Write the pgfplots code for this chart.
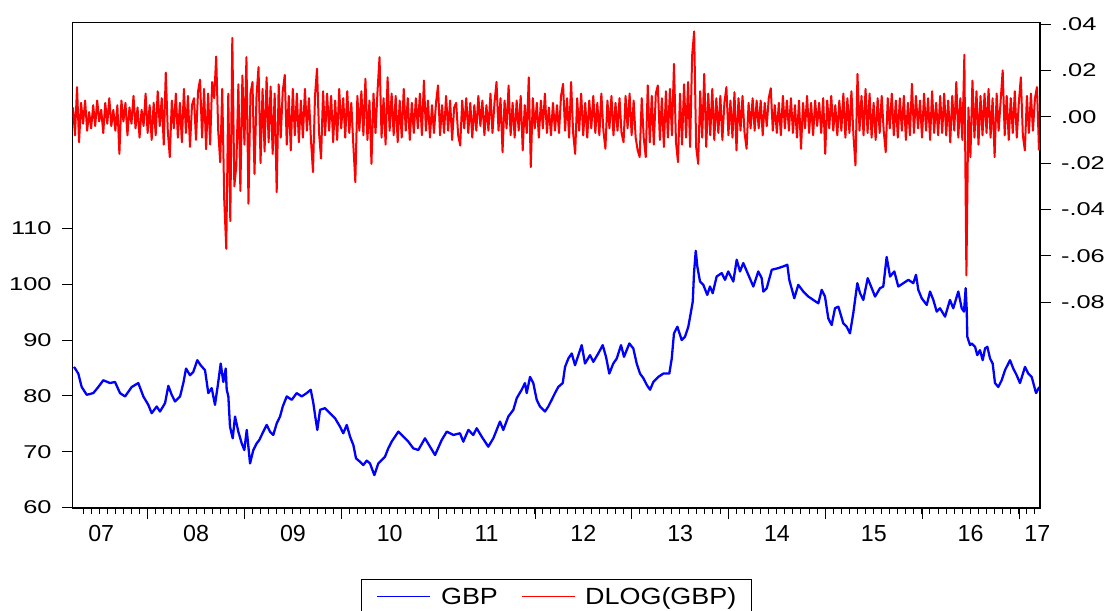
\documentclass[border=0pt]{standalone}
\usepackage{pgfplots}
\pgfplotsset{compat=1.18}
\usepackage{pgfplotstable}
\usepackage{fontspec}
\setmainfont{Liberation Sans}
\newfontfamily\ylabfont{Liberation Sans}[FakeStretch=1.37]
\newfontfamily\legfont{Liberation Sans}[FakeStretch=1.15]

\pgfplotstableread{
t v
2007.239 85.2
2007.283 84.0
2007.318 81.6
2007.370 80.2
2007.438 80.5
2007.490 81.6
2007.541 82.8
2007.611 82.3
2007.662 82.5
2007.714 80.5
2007.766 79.9
2007.835 81.6
2007.903 82.3
2007.955 79.9
2008.006 78.4
2008.041 76.9
2008.093 78.1
2008.127 77.2
2008.179 78.7
2008.213 81.8
2008.248 80.2
2008.282 79.0
2008.334 79.9
2008.368 82.3
2008.396 84.9
2008.437 83.7
2008.471 84.3
2008.512 86.4
2008.547 85.5
2008.592 84.6
2008.626 80.5
2008.661 81.4
2008.695 78.4
2008.729 82.5
2008.754 85.8
2008.781 82.5
2008.806 84.9
2008.816 81.1
2008.833 79.9
2008.850 74.5
2008.878 72.4
2008.902 76.3
2008.936 73.6
2008.971 71.5
2008.998 70.3
2009.023 73.9
2009.057 67.9
2009.091 70.3
2009.126 71.5
2009.153 72.1
2009.194 73.6
2009.229 74.8
2009.263 73.6
2009.297 73.0
2009.333 75.1
2009.367 76.3
2009.395 78.1
2009.436 79.9
2009.488 79.3
2009.539 80.5
2009.591 79.9
2009.642 80.5
2009.684 81.1
2009.711 78.7
2009.728 76.6
2009.752 73.9
2009.780 77.5
2009.831 77.8
2009.883 76.9
2009.935 76.0
2009.986 74.5
2010.020 73.3
2010.056 74.8
2010.090 72.7
2010.124 71.2
2010.152 68.8
2010.193 68.2
2010.227 67.6
2010.262 68.4
2010.296 67.9
2010.341 65.8
2010.382 67.9
2010.417 68.5
2010.451 69.1
2010.485 70.6
2010.520 71.8
2010.589 73.6
2010.640 72.7
2010.692 71.8
2010.744 70.6
2010.795 70.3
2010.864 72.4
2010.916 70.9
2010.968 69.4
2011.037 72.1
2011.089 73.6
2011.157 73.0
2011.226 73.3
2011.260 71.8
2011.312 73.9
2011.363 73.0
2011.398 74.2
2011.450 72.7
2011.518 70.9
2011.570 72.4
2011.639 75.4
2011.673 73.9
2011.725 76.3
2011.777 77.5
2011.812 79.6
2011.863 81.1
2011.897 82.3
2011.915 80.5
2011.949 83.4
2011.983 82.3
2012.018 79.3
2012.052 78.1
2012.104 77.2
2012.138 78.1
2012.173 79.3
2012.207 80.5
2012.241 81.6
2012.287 82.3
2012.311 85.2
2012.345 86.7
2012.380 87.6
2012.414 85.5
2012.483 89.1
2012.517 85.8
2012.569 87.3
2012.603 86.1
2012.654 87.6
2012.700 89.1
2012.734 87.0
2012.768 84.0
2012.809 85.8
2012.845 86.7
2012.889 89.1
2012.920 87.0
2012.975 89.4
2013.016 88.5
2013.051 85.8
2013.085 84.0
2013.119 83.2
2013.154 82.0
2013.189 81.1
2013.223 82.5
2013.274 83.4
2013.326 84.0
2013.388 84.0
2013.413 86.7
2013.436 91.2
2013.471 92.4
2013.516 90.0
2013.550 90.6
2013.584 92.4
2013.609 94.8
2013.630 96.9
2013.643 102.0
2013.661 106.0
2013.677 103.2
2013.705 100.5
2013.739 99.9
2013.780 98.1
2013.808 99.6
2013.836 98.4
2013.877 101.4
2013.929 102.0
2013.963 100.8
2013.997 102.3
2014.049 100.5
2014.084 104.4
2014.118 102.3
2014.152 103.8
2014.204 101.7
2014.256 99.6
2014.307 102.3
2014.342 101.1
2014.359 98.7
2014.394 99.3
2014.446 102.6
2014.514 102.9
2014.565 103.2
2014.607 103.5
2014.627 100.8
2014.679 97.5
2014.720 99.9
2014.772 98.7
2014.824 97.8
2014.875 97.2
2014.927 96.6
2014.962 99.0
2014.996 97.8
2015.030 93.9
2015.065 92.7
2015.099 95.7
2015.134 96.0
2015.185 93.0
2015.220 92.4
2015.254 91.2
2015.288 94.8
2015.330 100.2
2015.358 98.4
2015.392 97.2
2015.437 101.1
2015.479 99.3
2015.513 97.8
2015.564 99.3
2015.598 99.6
2015.633 104.9
2015.668 101.4
2015.712 102.3
2015.753 99.6
2015.805 100.2
2015.857 100.8
2015.908 100.2
2015.936 101.7
2015.960 99.0
2015.995 97.5
2016.047 96.3
2016.081 98.7
2016.115 97.2
2016.150 95.1
2016.184 95.7
2016.236 94.2
2016.287 97.2
2016.321 95.7
2016.373 98.7
2016.408 95.7
2016.432 95.1
2016.449 99.3
2016.460 95.4
2016.466 90.6
2016.494 89.1
2016.511 89.4
2016.546 88.8
2016.569 87.3
2016.597 88.2
2016.625 86.4
2016.649 88.5
2016.673 88.8
2016.701 86.7
2016.728 85.8
2016.752 82.3
2016.786 81.6
2016.821 82.8
2016.855 84.6
2016.907 86.4
2016.941 84.9
2016.976 83.7
2017.010 82.3
2017.062 85.2
2017.096 84.0
2017.131 83.4
2017.176 80.5
2017.210 81.6
}\gbp

\pgfplotstableread[row sep=\\]{d\\
0.004\\ -0.008\\ 0.0128\\ -0.011\\ 0.006\\ -0.003\\ 0.007\\ -0.006\\ 0.002\\ -0.005\\
0.005\\ -0.004\\ 0.007\\ -0.002\\ 0.003\\ -0.007\\ 0.006\\ -0.003\\ 0.008\\ -0.004\\
0.003\\ -0.006\\ 0.005\\ -0.016\\ 0.007\\ -0.002\\ 0.006\\ -0.008\\ 0.004\\ -0.003\\
0.009\\ -0.005\\ 0.004\\ -0.009\\ 0.003\\ -0.004\\ 0.010\\ -0.007\\ 0.005\\ -0.010\\
0.006\\ -0.008\\ 0.011\\ -0.004\\ 0.008\\ -0.012\\ 0.019\\ -0.006\\ -0.0174\\ 0.007\\
-0.005\\ 0.010\\ -0.009\\ 0.006\\ -0.011\\ 0.012\\ -0.007\\ 0.009\\ -0.013\\ 0.005\\
0.008\\ -0.010\\ 0.011\\ 0.016\\ -0.009\\ 0.012\\ -0.014\\ 0.010\\ -0.012\\ 0.015\\
0.008\\ 0.026\\ -0.006\\ -0.0196\\ 0.012\\ -0.036\\ -0.057\\ 0.010\\ -0.045\\ 0.034\\
-0.030\\ -0.021\\ 0.014\\ -0.032\\ 0.0178\\ -0.012\\ 0.0257\\ -0.0375\\ 0.010\\ 0.015\\
-0.0246\\ 0.009\\ 0.0214\\ -0.020\\ 0.012\\ -0.015\\ 0.017\\ -0.011\\ 0.013\\ -0.016\\
0.010\\ -0.0325\\ 0.014\\ -0.009\\ 0.011\\ 0.018\\ -0.012\\ 0.009\\ -0.0145\\ 0.012\\
-0.008\\ 0.010\\ -0.011\\ 0.007\\ -0.009\\ 0.012\\ -0.006\\ 0.008\\ -0.010\\ -0.0239\\
0.009\\ 0.0207\\ -0.007\\ -0.018\\ 0.011\\ -0.008\\ 0.010\\ -0.006\\ 0.009\\ -0.011\\
0.007\\ -0.010\\ 0.012\\ -0.005\\ 0.008\\ -0.009\\ 0.011\\ -0.007\\ 0.006\\ -0.012\\
-0.0282\\ 0.009\\ -0.006\\ 0.011\\ -0.008\\ 0.0164\\ -0.010\\ 0.007\\ -0.0203\\ 0.010\\
-0.007\\ 0.011\\ 0.0257\\ -0.009\\ 0.008\\ -0.012\\ 0.017\\ -0.006\\ 0.010\\ -0.008\\
0.009\\ -0.011\\ 0.007\\ -0.009\\ 0.012\\ -0.006\\ 0.008\\ -0.010\\ 0.006\\ -0.007\\
0.008\\ -0.005\\ 0.010\\ -0.008\\ 0.0156\\ -0.006\\ 0.007\\ -0.009\\ 0.005\\ -0.007\\
0.006\\ 0.0135\\ -0.008\\ 0.005\\ -0.007\\ 0.009\\ -0.006\\ 0.007\\ -0.010\\ 0.004\\
0.006\\ -0.008\\ -0.0124\\ 0.007\\ -0.005\\ 0.008\\ -0.007\\ 0.006\\ -0.009\\ 0.005\\
-0.006\\ 0.009\\ -0.004\\ 0.007\\ -0.008\\ 0.005\\ -0.006\\ 0.010\\ -0.007\\ 0.006\\
0.015\\ -0.006\\ 0.008\\ -0.0153\\ 0.007\\ -0.005\\ 0.0135\\ -0.008\\ 0.006\\ -0.009\\
0.007\\ -0.006\\ 0.009\\ -0.0145\\ 0.005\\ -0.007\\ 0.017\\ -0.0217\\ 0.008\\ -0.005\\
0.006\\ -0.009\\ 0.007\\ -0.005\\ 0.010\\ -0.007\\ 0.004\\ -0.008\\ 0.006\\ -0.006\\
0.005\\ -0.007\\ 0.009\\ 0.0142\\ -0.006\\ 0.008\\ -0.009\\ 0.015\\ -0.007\\ -0.016\\
0.008\\ -0.006\\ 0.010\\ -0.008\\ 0.006\\ -0.009\\ 0.007\\ -0.005\\ 0.009\\ -0.007\\
0.006\\ -0.008\\ 0.010\\ -0.006\\ -0.0138\\ 0.007\\ -0.005\\ 0.009\\ -0.008\\ 0.006\\
-0.006\\ 0.008\\ -0.007\\ -0.011\\ 0.009\\ -0.005\\ 0.010\\ -0.008\\ 0.007\\ -0.009\\
-0.0145\\ -0.0174\\ 0.008\\ -0.009\\ -0.0174\\ 0.0135\\ -0.011\\ 0.009\\ -0.012\\ 0.010\\
0.0135\\ -0.010\\ 0.008\\ -0.013\\ 0.011\\ -0.009\\ 0.012\\ -0.008\\ 0.0228\\ -0.011\\
-0.0196\\ 0.010\\ -0.012\\ 0.014\\ -0.009\\ 0.015\\ -0.013\\ 0.0264\\ 0.0368\\ -0.0131\\
-0.0203\\ 0.011\\ -0.009\\ 0.0185\\ -0.013\\ 0.010\\ -0.008\\ 0.012\\ -0.010\\ 0.008\\
-0.007\\ 0.009\\ -0.010\\ 0.006\\ 0.0128\\ -0.008\\ 0.007\\ -0.009\\ 0.0106\\ -0.0145\\
0.008\\ -0.006\\ 0.009\\ -0.007\\ -0.0138\\ 0.006\\ -0.005\\ 0.008\\ -0.006\\ 0.007\\
-0.005\\ 0.007\\ -0.008\\ 0.006\\ -0.004\\ 0.008\\ 0.0123\\ -0.006\\ 0.005\\ -0.007\\
0.006\\ -0.008\\ 0.009\\ -0.005\\ 0.007\\ -0.006\\ 0.008\\ -0.007\\ 0.005\\ -0.009\\
0.007\\ -0.0138\\ 0.006\\ -0.005\\ 0.009\\ -0.007\\ 0.006\\ -0.008\\ 0.007\\ -0.004\\
0.006\\ -0.007\\ 0.008\\ -0.016\\ 0.007\\ -0.005\\ 0.009\\ -0.006\\ 0.005\\ -0.008\\
0.007\\ -0.006\\ 0.010\\ -0.009\\ 0.008\\ -0.007\\ 0.011\\ -0.008\\ -0.021\\ 0.0185\\
-0.006\\ 0.009\\ -0.008\\ 0.012\\ -0.007\\ 0.010\\ -0.009\\ 0.006\\ -0.010\\ 0.008\\
-0.007\\ 0.009\\ -0.006\\ -0.0153\\ 0.008\\ -0.005\\ 0.010\\ -0.008\\ 0.007\\ -0.009\\
0.008\\ -0.006\\ 0.009\\ -0.010\\ 0.006\\ -0.008\\ 0.0142\\ -0.007\\ 0.009\\ -0.005\\
0.007\\ -0.009\\ 0.010\\ -0.006\\ 0.008\\ -0.010\\ 0.011\\ -0.007\\ 0.006\\ -0.008\\
0.009\\ -0.007\\ 0.010\\ -0.008\\ 0.007\\ -0.011\\ 0.009\\ -0.006\\ 0.015\\ -0.009\\
0.008\\ -0.010\\ 0.0267\\ -0.0684\\ 0.004\\ -0.0174\\ 0.0156\\ -0.009\\ 0.011\\ -0.012\\
0.009\\ -0.008\\ 0.010\\ -0.007\\ 0.012\\ -0.009\\ 0.008\\ -0.0174\\ 0.010\\ -0.006\\
0.007\\ 0.020\\ -0.008\\ 0.009\\ -0.010\\ 0.008\\ -0.007\\ 0.011\\ -0.009\\ 0.006\\
0.017\\ -0.008\\ -0.0145\\ 0.009\\ -0.007\\ 0.010\\ -0.006\\ 0.008\\ 0.0128\\ -0.0145\\
}\dlog

\begin{document}
\begin{tikzpicture}
\path[use as bounding box] (0bp,0bp) rectangle (1110bp,611bp);
\begin{axis}[
  at={(72.7bp,103bp)}, anchor=south west,
  scale only axis, width=967.3bp, height=485.7bp,
  xmin=2007.2252, xmax=2017.217,
  ymin=59.91, ymax=146.95,
  axis line style={black, line width=1.2bp},
  tick style={black, line width=0.9bp},
  tick align=outside, major tick length=11bp,
  xtick pos=bottom, ytick pos=left,
  xtick={2007.52,2008.5,2009.5,2010.5,2011.5,2012.5,2013.5,2014.5,2015.5,2016.5,2017.19},
  xticklabels={07,08,09,10,11,12,13,14,15,16,17},
  major x tick style={draw=none},
  xticklabel style={font=\fontsize{23.3}{26}\selectfont, anchor=north, inner sep=0pt, yshift=-6bp},
  ytick={60,70,80,90,100,110},
  yticklabels={60,70,80,90,100,110},
  yticklabel style={font=\ylabfont\fontsize{18.6}{20}\selectfont, anchor=east, inner sep=0pt, xshift=-10bp},
  /pgf/number format/assume math mode=true,
  clip=false,
]
\addplot[color={rgb,255:red,0;green,0;blue,255}, line width=2.3bp, line join=round] table[x=t, y=v] {\gbp};
\end{axis}
\begin{axis}[
  at={(72.7bp,103bp)}, anchor=south west,
  scale only axis, width=967.3bp, height=485.7bp,
  xmin=2007.2252, xmax=2017.217,
  ymin=-0.1687, ymax=0.04073,
  axis x line*=bottom, axis y line*=right,
  axis line style={black, line width=1.2bp, -},
  tick style={black, line width=0.9bp},
  tick align=outside, major tick length=11bp, minor tick length=6bp,
  xtick={2008,2009,2010,2011,2012,2013,2014,2015,2016,2017},
  xticklabels={},
  minor xtick={2007.3333,2007.4167,...,2017.2},
  ytick={-0.08,-0.06,-0.04,-0.02,0,0.02,0.04},
  yticklabels={-.08,-.06,-.04,-.02,.00,.02,.04},
  yticklabel style={font=\ylabfont\fontsize{18.6}{20}\selectfont, anchor=west, inner sep=0pt, xshift=10bp},
  /pgf/number format/assume math mode=true,
  legend columns=2,
  legend style={at={(0.5002,-0.1462)}, anchor=north, draw=black, line width=0.8bp,
    font=\legfont\fontsize{23.5}{26}\selectfont,
    inner xsep=15bp, inner ysep=8bp,
    nodes={inner sep=0pt},
    /tikz/every odd column/.append style={column sep=10bp},
    /tikz/every even column/.append style={column sep=23bp}},
  legend image code/.code={\draw[#1, line width=1.3bp] (0bp,0bp) -- (53bp,0bp);},
]
\addlegendimage{color={rgb,255:red,0;green,0;blue,255}}
\addlegendentry{GBP}
\addplot[color={rgb,255:red,255;green,0;blue,0}, line width=2bp, line join=round] table[x expr={2007.2284+\coordindex*0.020831}, y=d] {\dlog};
\addlegendentry{DLOG(GBP)}
\end{axis}
\end{tikzpicture}
\end{document}
